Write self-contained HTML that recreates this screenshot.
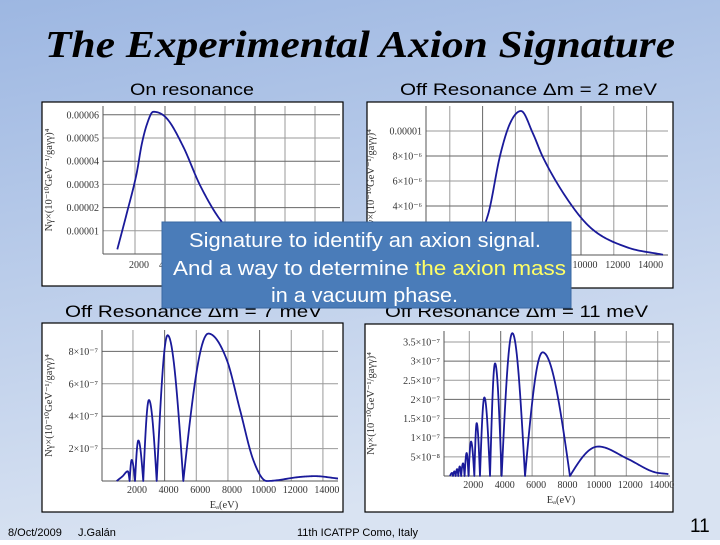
<!DOCTYPE html>
<html><head><meta charset="utf-8"><style>
html,body{margin:0;padding:0;}
body{width:720px;height:540px;overflow:hidden;}
svg text{font-family:"Liberation Serif",serif;}
.sans{font-family:"Liberation Sans","DejaVu Sans",sans-serif;}
</style></head><body>
<svg id="slide" width="720" height="540" viewBox="0 0 720 540" xmlns="http://www.w3.org/2000/svg">
<defs>
<linearGradient id="bg" x1="0" y1="0" x2="0.25" y2="1">
<stop offset="0" stop-color="#9db7e2"/><stop offset="1" stop-color="#d9e3f2"/>
</linearGradient>
</defs>
<rect x="0" y="0" width="720" height="540" fill="url(#bg)"/>
<text x="360" y="57" text-anchor="middle" font-size="38" font-weight="bold" font-style="italic" style="font-family:'Liberation Serif',serif" textLength="630" lengthAdjust="spacingAndGlyphs">The Experimental Axion Signature</text>
<text class="sans" x="130" y="95" font-size="17" textLength="124" lengthAdjust="spacingAndGlyphs">On resonance</text>
<text class="sans" x="400" y="95" font-size="17" textLength="257" lengthAdjust="spacingAndGlyphs">Off Resonance Δm = 2 meV</text>
<text class="sans" x="65" y="317" font-size="17" textLength="257" lengthAdjust="spacingAndGlyphs">Off Resonance Δm = 7 meV</text>
<text class="sans" x="385" y="317" font-size="17" textLength="263" lengthAdjust="spacingAndGlyphs">Off Resonance Δm = 11 meV</text>
<g id="charts"></g>
<g>
<rect x="162" y="222" width="409" height="86" fill="#4a7cb9" stroke="#3a68a2" stroke-width="1"/>
<text class="sans" x="189" y="247" font-size="20" fill="#fff" textLength="352" lengthAdjust="spacingAndGlyphs">Signature to identify an axion signal.</text>
<text class="sans" x="173" y="275" font-size="20" fill="#fff" textLength="393" lengthAdjust="spacingAndGlyphs">And a way to determine <tspan fill="#ffff66">the axion mass</tspan></text>
<text class="sans" x="271" y="302" font-size="20" fill="#fff" textLength="187" lengthAdjust="spacingAndGlyphs">in a vacuum phase.</text>
</g>
<text class="sans" x="8" y="536" font-size="11">8/Oct/2009</text>
<text class="sans" x="78" y="536" font-size="11">J.Galán</text>
<text class="sans" x="297" y="536" font-size="11">11th ICATPP Como, Italy</text>
<text class="sans" x="690" y="532" font-size="19">11</text>
</svg>
<script>
// ---- data (energy in eV, rate in panel units) ----
const onResE = [820,1450,2110,2440,2780,3220,4110,5220,6330,7780,9000,11000,15000];
const onResN = [0.2,1.75,3.48,4.7,5.56,6.13,5.85,4.62,2.97,1.39,0.7,0.25,0.05];
const off2E = [3000,4330,5060,5670,6340,7070,7680,9510,10730,12800,15000];
const off2N = [0,3.3,8.0,10.6,11.6,9.8,7.9,3.9,2.1,0.7,0.1];
const off7E = [970,1350,1670,1790,1920,2130,2340,2650,3010,3500,4190,5180,6760,7920,8760,9600,10450,12550,13500,14970];
const off7N = [0,0.3,0.6,0,1.3,0,2.5,0,5.0,0,9.0,0,9.1,7.5,4.4,1.3,0,0.25,0.3,0.15];
const off11E = [770,900,960,1050,1130,1220,1300,1390,1480,1600,1700,1830,1950,2110,2320,2470,2680,2960,3320,3640,4060,4740,5550,6670,8410,10220,12030,13720,14680];
const off11N = [0,0.08,0,0.12,0,0.18,0,0.25,0,0.33,0,0.6,0,0.9,0,1.38,0,2.05,0,2.94,0,3.73,0,3.23,0,0.77,0.46,0.11,0.05];
const xTickVals = [2000,4000,6000,8000,10000,12000,14000];
const onResTicks = [1,2,3,4,5,6];
const onResTickLabels = ["0.00001","0.00002","0.00003","0.00004","0.00005","0.00006"];
const off2Ticks = [2,4,6,8,10];
const off2TickLabels = ["2×10⁻⁶","4×10⁻⁶","6×10⁻⁶","8×10⁻⁶","0.00001"];
const off7Ticks = [2,4,6,8];
const off7TickLabels = ["2×10⁻⁷","4×10⁻⁷","6×10⁻⁷","8×10⁻⁷"];
const off11Ticks = [0.5,1,1.5,2,2.5,3,3.5];
const off11TickLabels = ["5×10⁻⁸","1×10⁻⁷","1.5×10⁻⁷","2×10⁻⁷","2.5×10⁻⁷","3×10⁻⁷","3.5×10⁻⁷"];

const NS='http://www.w3.org/2000/svg';
function mk(tag,attrs,parent){const e=document.createElementNS(NS,tag);for(const k in attrs)e.setAttribute(k,attrs[k]);if(parent)parent.appendChild(e);return e;}

function isMin(ys,i){const a=i>0?ys[i-1]:Infinity,b=i<ys.length-1?ys[i+1]:Infinity;return ys[i]<=a&&ys[i]<=b;}
function isMax(ys,i){const a=i>0?ys[i-1]:-Infinity,b=i<ys.length-1?ys[i+1]:-Infinity;return ys[i]>=a&&ys[i]>=b;}
function interp(xs,ys){
  const n=xs.length,d=[],m=[];
  for(let i=0;i<n-1;i++)d.push((ys[i+1]-ys[i])/(xs[i+1]-xs[i]));
  m[0]=d[0];m[n-1]=d[n-2];
  for(let i=1;i<n-1;i++){m[i]=(d[i-1]*d[i]<=0)?0:(d[i-1]+d[i])/2;}
  for(let i=0;i<n-1;i++){if(d[i]===0){m[i]=0;m[i+1]=0;continue;}const a=m[i]/d[i],b=m[i+1]/d[i],s=a*a+b*b;if(s>9){const t=3/Math.sqrt(s);m[i]=t*a*d[i];m[i+1]=t*b*d[i];}}
  const pts=[];
  for(let i=0;i<n-1;i++){
    const a=ys[i],b=ys[i+1],h=xs[i+1]-xs[i];
    const up=(a===0&&isMin(ys,i)&&isMax(ys,i+1));
    const down=(b===0&&isMin(ys,i+1)&&isMax(ys,i));
    for(let k=0;k<20;k++){const t=k/20;let y;
      if(up)y=a+(b-a)*Math.sin(t*Math.PI/2);
      else if(down)y=a+(b-a)*(1-Math.cos(t*Math.PI/2));
      else{const t2=t*t,t3=t2*t;y=(2*t3-3*t2+1)*a+(t3-2*t2+t)*h*m[i]+(-2*t3+3*t2)*b+(t3-t2)*h*m[i+1];}
      pts.push([xs[i]+t*h,Math.max(0,y)]);}
  }
  pts.push([xs[n-1],ys[n-1]]);return pts;
}

const panels=[
 {id:'on-resonance',fr:[42,102,301,184],pl:[103,106,340,254],x0:105,xs:0.015,y0:254,ys:23.2,E:onResE,N:onResN,ticks:onResTicks,tl:onResTickLabels,xly:268,xlab:false,ytx:52},
 {id:'off-resonance-2mev',fr:[367,102,306,186],pl:[426,106,668,255],x0:417,xs:0.0164,y0:256,ys:12.5,E:off2E,N:off2N,ticks:off2Ticks,tl:off2TickLabels,xly:268,xlab:false,ytx:374},
 {id:'off-resonance-7mev',fr:[42,323,301,189],pl:[102,330,338,481],x0:101.3,xs:0.01583,y0:481,ys:16.2,E:off7E,N:off7N,ticks:off7Ticks,tl:off7TickLabels,xly:493,xlab:true,ytx:52},
 {id:'off-resonance-11mev',fr:[365,324,308,188],pl:[444,331,670,476],x0:437.9,xs:0.0157,y0:476,ys:38.3,E:off11E,N:off11N,ticks:off11Ticks,tl:off11TickLabels,xly:488,xlab:true,ytx:374}
];
const root=document.getElementById('charts');
panels.forEach(p=>{
  const sx=e=>p.x0+e*p.xs, sy=v=>p.y0-v*p.ys;
  const g=mk('g',{},root);
  
  
  const fr=mk('rect',{x:p.fr[0],y:p.fr[1],width:p.fr[2],height:p.fr[3],fill:'#fff',stroke:'#000','stroke-width':1.2},g);
  
  
  const [L,T,R,B]=p.pl;
  const cid='clip-'+p.id;
  const cp=mk('clipPath',{id:cid},g);mk('rect',{x:L,y:T,width:R-L,height:B-T+1},cp);
  xTickVals.forEach((v,i)=>{const x=sx(v);if(x<L||x>R)return;
    const gl=mk('line',{x1:x,y1:T,x2:x,y2:B,stroke:i%3===1?'#666':'#9a9a9a','stroke-width':1},g);
    
    
    const t=mk('text',{x:x+4,y:p.xly,'text-anchor':'middle','font-size':10,fill:'#333'},g);t.textContent=String(v);
    
    
  });
  p.ticks.forEach((v,i)=>{const y=sy(v);
    const gl=mk('line',{x1:L,y1:y,x2:R,y2:y,stroke:i%2?'#666':'#9a9a9a','stroke-width':1},g);
    
    
    const t=mk('text',{x:L-4,y:y+3.5,'text-anchor':'end','font-size':10,fill:'#333'},g);t.textContent=p.tl[i];
    
    
  });
  mk('line',{x1:L,y1:B,x2:R,y2:B,stroke:'#555','stroke-width':1},g);
  mk('line',{x1:L,y1:T,x2:L,y2:B,stroke:'#555','stroke-width':1},g);
  const cy=(T+B)/2;
  const yt=mk('text',{x:p.ytx,y:cy,'text-anchor':'middle','font-size':10.5,fill:'#333',transform:'rotate(-90 '+p.ytx+' '+cy+')'},g);
  yt.textContent='Nγ×(10⁻¹⁰GeV⁻¹/gaγγ)⁴';
  
  
  if(p.xlab){const xt=mk('text',{x:(L+R)/2+4,y:p.xly+15,'text-anchor':'middle','font-size':10.5,fill:'#333'},g);xt.textContent='Eₐ(eV)';
    
    }
  const pts=interp(p.E,p.N);
  const d=pts.map((q,i)=>(i?'L':'M')+sx(q[0]).toFixed(2)+' '+sy(q[1]).toFixed(2)).join(' ');
  const path=mk('path',{d:d,fill:'none',stroke:'#1a1a9a','stroke-width':1.8,'stroke-linejoin':'round','clip-path':'url(#'+cid+')'},g);
  
  
});
</script>
</body></html>
